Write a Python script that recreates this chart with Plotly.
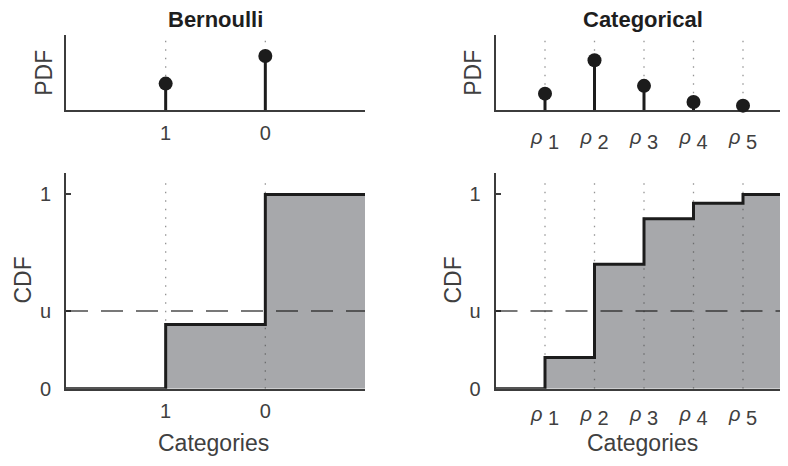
import plotly.graph_objects as go

# ---------------- data ----------------
bern_labels = ["1", "0"]
bern_pdf = [0.33, 0.67]

cat_labels = ["<i>ρ</i> <sub><span style='font-size:20px'>1</span></sub>",
              "<i>ρ</i> <sub><span style='font-size:20px'>2</span></sub>",
              "<i>ρ</i> <sub><span style='font-size:20px'>3</span></sub>",
              "<i>ρ</i> <sub><span style='font-size:20px'>4</span></sub>",
              "<i>ρ</i> <sub><span style='font-size:20px'>5</span></sub>"]
cat_pdf = [0.16, 0.48, 0.235, 0.08, 0.045]

u_value = 0.4
cdf_ticks = [0, u_value, 1]
cdf_ticktext = ["0", "u", "1"]

# ---------------- style / layout geometry ----------------
OFF = 8                 # page body margin
W, H = 772, 462
KY = 478 / 466          # vertical page-to-picture factor
FONT = "Liberation Sans, Arial, Helvetica, sans-serif"
AX = "#3c3c3c"
TXT = "#404040"
FILL = "#a7a8ab"
DARK = "#1c1c1c"
DOT = "rgba(60,60,60,0.55)"
DASH = "rgba(30,30,30,0.6)"


def px_x(p):
    return min(1.0, (p - OFF) / W)


def px_y(p):
    return (H - (p * KY - OFF)) / H


SP = 49.5
left_dom = [px_x(66), px_x(365)]
right_dom = [px_x(495.5), 1.0]
top_dom = [px_y(110), px_y(35)]
bot_dom = [px_y(388), px_y(173)]

bern_pos = list(range(1, len(bern_labels) + 1))
cat_pos = list(range(1, len(cat_labels) + 1))
bern_xr = [0, len(bern_labels) + 1]
cat_xr = [0, (W + OFF - 495.5) / SP]

bern_pdf_yr = [0, 0.926]
cat_pdf_yr = [0, 0.72]
cdf_yr = [0, 1.108]


def cumsum(v):
    out, s = [], 0.0
    for a in v:
        s += a
        out.append(s)
    return out


fig = go.Figure()


def dotted(xs, yr, xa, ya, frac):
    X, Y = [], []
    for x in xs:
        X += [x, x, None]
        Y += [yr[0], yr[1] * frac, None]
    fig.add_trace(go.Scatter(x=X, y=Y, mode="lines", xaxis=xa, yaxis=ya,
                             line=dict(color=DOT, width=1.3, dash="1.5px,7px"),
                             hoverinfo="skip", showlegend=False))


def pdf_panel(pos, vals, yr, xa, ya):
    dotted(pos, yr, xa, ya, 0.935)
    X, Y = [], []
    for x, v in zip(pos, vals):
        X += [x, x, None]
        Y += [0, v, None]
    fig.add_trace(go.Scatter(x=X, y=Y, mode="lines", xaxis=xa, yaxis=ya,
                             line=dict(color=DARK, width=3),
                             hoverinfo="skip", showlegend=False))
    fig.add_trace(go.Scatter(x=pos, y=vals, mode="markers", xaxis=xa, yaxis=ya,
                             marker=dict(color=DARK, size=14),
                             cliponaxis=False, showlegend=False))


def cdf_panel(pos, vals, xr, yr, xa, ya):
    c = cumsum(vals)
    sx = [xr[0]] + pos + [xr[1]]
    sy = [0] + c + [c[-1]]
    fig.add_trace(go.Scatter(x=sx, y=sy, mode="lines", line_shape="hv",
                             fill="tozeroy", fillcolor=FILL,
                             line=dict(width=0, color=FILL), xaxis=xa, yaxis=ya,
                             hoverinfo="skip", showlegend=False))
    dotted(pos, yr, xa, ya, 0.977)
    fig.add_trace(go.Scatter(x=[xr[0], xr[1]], y=[u_value, u_value], mode="lines",
                             line=dict(color=DASH, width=2, dash="22px,13px"),
                             xaxis=xa, yaxis=ya, hoverinfo="skip", showlegend=False))
    fig.add_trace(go.Scatter(x=sx, y=sy, mode="lines", line_shape="hv",
                             line=dict(color=DARK, width=3), xaxis=xa, yaxis=ya,
                             hoverinfo="skip", showlegend=False))


pdf_panel(bern_pos, bern_pdf, bern_pdf_yr, "x", "y")
cdf_panel(bern_pos, bern_pdf, bern_xr, cdf_yr, "x2", "y2")
pdf_panel(cat_pos, cat_pdf, cat_pdf_yr, "x3", "y3")
cdf_panel(cat_pos, cat_pdf, cat_xr, cdf_yr, "x4", "y4")

tickfont = dict(family=FONT, size=20, color=TXT)


def xax(dom, xr, pos, labels, anchor, standoff):
    return dict(domain=dom, range=xr, anchor=anchor, showgrid=False, zeroline=False,
                showline=True, linecolor=AX, linewidth=2, ticks="",
                tickvals=pos, ticktext=labels, tickfont=tickfont,
                ticklabelstandoff=standoff, layer="below traces", fixedrange=True)


def yax(dom, yr, anchor, cdf):
    d = dict(domain=dom, range=yr, anchor=anchor, showgrid=False, zeroline=False,
             showline=True, linecolor=AX, linewidth=2, tickfont=tickfont,
             layer="below traces", fixedrange=True)
    if cdf:
        d.update(tickvals=cdf_ticks, ticktext=cdf_ticktext, ticks="inside",
                 ticklen=5, tickwidth=1.5, tickcolor=AX, ticklabelstandoff=9)
    else:
        d.update(showticklabels=False, ticks="")
    return d


fig.update_layout(
    width=W, height=H, margin=dict(l=0, r=0, t=0, b=0),
    paper_bgcolor="white", plot_bgcolor="white",
    showlegend=False, font=dict(family=FONT, color=TXT),
    xaxis=xax(left_dom, bern_xr, bern_pos, bern_labels, "y", 4),
    yaxis=yax(top_dom, bern_pdf_yr, "x", False),
    xaxis2=xax(left_dom, bern_xr, bern_pos, bern_labels, "y2", 3),
    yaxis2=yax(bot_dom, cdf_yr, "x2", True),
    xaxis3=xax(right_dom, cat_xr, cat_pos, cat_labels, "y3", 8),
    yaxis3=yax(top_dom, cat_pdf_yr, "x3", False),
    xaxis4=xax(right_dom, cat_xr, cat_pos, cat_labels, "y4", 6),
    yaxis4=yax(bot_dom, cdf_yr, "x4", True),
)

ann = []
titlefont = dict(family=FONT, size=22, color="#1e1e1e")
labfont = dict(family=FONT, size=23, color=TXT)
ann.append(dict(text="<b>Bernoulli</b>", x=sum(left_dom) / 2, y=px_y(19), xref="paper",
                yref="paper", showarrow=False, font=titlefont, xanchor="center", yanchor="middle"))
ann.append(dict(text="<b>Categorical</b>", x=px_x(643), y=px_y(19), xref="paper",
                yref="paper", showarrow=False, font=titlefont, xanchor="center", yanchor="middle"))
for xc, yc, t in [(44, 72.5, "PDF"), (23, 280, "CDF"), (473, 72.5, "PDF"), (453, 280, "CDF")]:
    ann.append(dict(text=t, x=px_x(xc), y=px_y(yc), xref="paper", yref="paper",
                    showarrow=False, textangle=-90, font=labfont,
                    xanchor="center", yanchor="middle"))
for xc in [213.5, 642.5]:
    ann.append(dict(text="Categories", x=px_x(xc), y=px_y(442), xref="paper", yref="paper",
                    showarrow=False, font=labfont, xanchor="center", yanchor="middle"))
fig.update_layout(annotations=ann)

fig.write_html("out.html")
